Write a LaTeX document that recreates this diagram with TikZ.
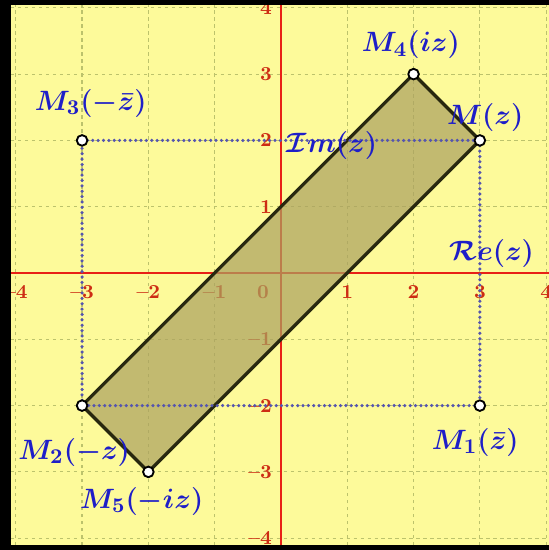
\documentclass[tikz,border=0pt]{standalone}
\usepackage{amsmath}
\definecolor{bgyellow}{RGB}{253,250,154}
\definecolor{gridc}{RGB}{188,194,108}
\definecolor{axisred}{RGB}{232,32,22}
\definecolor{ticklab}{RGB}{205,45,20}
\definecolor{edgec}{RGB}{40,40,15}
\definecolor{fillc}{RGB}{172,162,96}
\definecolor{dotc}{RGB}{85,85,175}
\definecolor{labblue}{RGB}{30,30,200}
\begin{document}
\begin{tikzpicture}[x=1cm,y=1cm,
  gridline/.style={gridc, line width=0.5pt, dash pattern=on 1.5pt off 1.5pt},
  axisline/.style={axisred, line width=1.1pt},
  ticklabel/.style={text=ticklab, font=\bfseries\fontsize{8.5}{9}\selectfont, inner sep=0pt},
  polyfill/.style={fill=fillc, fill opacity=0.72},
  edgeline/.style={edgec, line width=1.4pt, line join=round},
  dotline/.style={dotc, line width=1.5pt, dash pattern=on 0pt off 2.3pt, line cap=round},
  ptnode/.style={circle, draw=black, fill=white, line width=0.8pt, minimum size=0.16cm, inner sep=0pt},
  lab/.style={text=labblue, font=\fontsize{12.5}{14}\selectfont\boldmath, inner sep=0pt}]
\fill[black] (-4.238,-4.178) rectangle (4.042,4.118);
\useasboundingbox (-4.238,-4.178) rectangle (4.042,4.118);
\begin{scope}
\clip (-4.072,-4.103) rectangle (4.042,4.042);
\fill[bgyellow] (-4.072,-4.103) rectangle (4.042,4.042);
% grid
\foreach \k in {-4,...,4} {
  \draw[gridline] (\k,-4.103) -- (\k,4.042);
  \draw[gridline] (-4.072,\k) -- (4.042,\k);
}
% axes
\draw[axisline] (-4.072,0) -- (4.042,0);
\draw[axisline] (0,-4.103) -- (0,4.042);
% tick labels
\foreach \k/\t in {-4/--4,-3/--3,-2/--2,-1/--1,1/1,2/2,3/3,4/4} {
  \node[ticklabel] (xl\k) at (\k,-0.29) {\t};
  \node[ticklabel, anchor=east] (yl\k) at (-0.13,\k) {\t};
}
\node[ticklabel] (zero) at (-0.27,-0.29) {0};
% points
\coordinate (pM) at (3,2);
\coordinate (pM1) at (3,-2);
\coordinate (pM2) at (-3,-2);
\coordinate (pM3) at (-3,2);
\coordinate (pM4) at (2,3);
\coordinate (pM5) at (-2,-3);
% polygon
\fill[polyfill] (pM4) -- (pM) -- (pM5) -- (pM2) -- cycle;
\draw[edgeline] (pM4) -- (pM) -- (pM5) -- (pM2) -- cycle;
% dotted rectangle
\draw[dotline] (pM3) -- (pM);
\draw[dotline] (pM) -- (pM1);
\draw[dotline] (pM1) -- (pM2);
\draw[dotline] (pM2) -- (pM3);
% point markers
\foreach \p in {pM,pM1,pM2,pM3,pM4,pM5} {
  \node[ptnode] (n\p) at (\p) {};
}
% labels
\node[lab] (lM3) at (-2.87,2.56) {$M_3(-\bar{z})$};
\node[lab] (lM4) at (1.96,3.44) {$M_4(iz)$};
\node[lab] (lM) at (3.08,2.35) {$M(z)$};
\node[lab] (lIm) at (0.77,1.93) {$\mathcal{I}m(z)$};
\node[lab] (lRe) at (3.18,0.29) {$\mathcal{R}e(z)$};
\node[lab] (lM1) at (2.93,-2.55) {$M_1(\bar{z})$};
\node[lab] (lM2) at (-3.12,-2.71) {$M_2(-z)$};
\node[lab] (lM5) at (-2.10,-3.45) {$M_5(-iz)$};
\end{scope}
\end{tikzpicture}
\end{document}
